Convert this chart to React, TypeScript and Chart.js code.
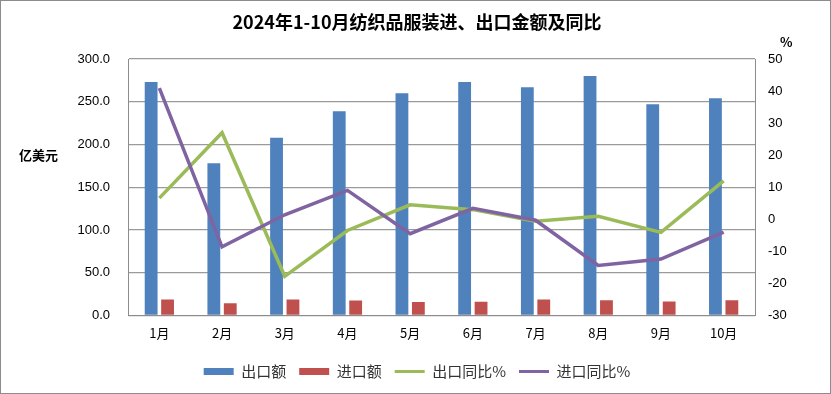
import React, { useEffect, useRef } from "react";
import { Chart, registerables } from "chart.js";

Chart.register(...registerables);

const categories = ["1月", "2月", "3月", "4月", "5月", "6月", "7月", "8月", "9月", "10月"];
const exportAmount = [273, 178, 208, 239, 260, 273, 267, 280, 247, 254];
const importAmount = [18.7, 14.2, 18.7, 17.5, 15.7, 16.1, 18.7, 17.6, 16.4, 17.6];
const exportYoY = [6.6, 27.0, -17.8, -3.5, 4.5, 3.0, -0.6, 0.9, -4.1, 12.0];
const importYoY = [40.9, -8.6, 1.4, 9.0, -4.5, 3.4, -0.3, -14.4, -12.4, -4.0];

const FONT = "'Noto Sans CJK SC', 'Liberation Sans', sans-serif";

const decorPlugin = {
  id: "decor",
  beforeDraw(chart: any) {
    const ctx = chart.ctx;
    ctx.save();
    ctx.fillStyle = "#ffffff";
    ctx.fillRect(0, 0, chart.width, chart.height);
    ctx.restore();
  },
  afterDraw(chart: any) {
    const ctx = chart.ctx;
    const area = chart.chartArea;
    ctx.save();
    ctx.strokeStyle = "#8c8c8c";
    ctx.lineWidth = 1;
    ctx.strokeRect(0.5, 0.5, chart.width - 1, chart.height - 1);
    ctx.fillStyle = "#000";
    ctx.font = "bold 13px " + FONT;
    ctx.textAlign = "left";
    ctx.textBaseline = "middle";
    ctx.fillText("亿美元", 19, area.top + 96);
    ctx.fillText("%", area.right + 25, area.top - 17);
    ctx.restore();
  },
};

export default function App() {
  const ref = useRef<HTMLCanvasElement>(null);
  useEffect(() => {
    const canvas = ref.current!;
    const chart = new Chart(canvas, {
      type: "bar",
      data: {
        labels: categories,
        datasets: [
          {
            type: "bar",
            label: "出口额",
            data: exportAmount,
            backgroundColor: "#4F81BD",
            yAxisID: "y",
            categoryPercentage: 0.524,
            barPercentage: 0.78,
            order: 2,
          },
          {
            type: "bar",
            label: "进口额",
            data: importAmount,
            backgroundColor: "#C0504D",
            yAxisID: "y",
            categoryPercentage: 0.524,
            barPercentage: 0.78,
            order: 2,
          },
          {
            type: "line",
            label: "出口同比%",
            data: exportYoY,
            borderColor: "#9BBB59",
            backgroundColor: "#9BBB59",
            borderWidth: 3.5,
            pointRadius: 0,
            tension: 0,
            yAxisID: "y1",
            order: 1,
          },
          {
            type: "line",
            label: "进口同比%",
            data: importYoY,
            borderColor: "#8064A2",
            backgroundColor: "#8064A2",
            borderWidth: 3.5,
            pointRadius: 0,
            tension: 0,
            yAxisID: "y1",
            order: 0,
          },
        ] as any,
      },
      options: {
        responsive: false,
        animation: false,
        devicePixelRatio: 1,
        layout: { padding: { left: 3, right: 0, top: 0, bottom: 5 } },
        plugins: {
          title: {
            display: true,
            text: "2024年1-10月纺织品服装进、出口金额及同比",
            color: "#000",
            font: { family: FONT, size: 18, weight: "bold" },
            padding: { top: 11, bottom: 26.4 },
          },
          legend: {
            position: "bottom",
            labels: {
              color: "#333",
              font: { family: FONT, size: 15 },
              usePointStyle: true,
              pointStyleWidth: 30,
              boxHeight: 7,
              padding: 13,
              sort: (a: any, b: any) => a.datasetIndex - b.datasetIndex,
              generateLabels(chart: any) {
                const items = Chart.defaults.plugins.legend.labels.generateLabels(chart);
                return items.map((it: any) => {
                  const ds = chart.data.datasets[it.datasetIndex];
                  const isLine = ds.type === "line";
                  return {
                    ...it,
                    pointStyle: isLine ? "line" : "rect",
                    lineWidth: isLine ? 3 : 0,
                    fontColor: "#333",
                  };
                });
              },
            },
          },
          tooltip: { enabled: false },
        },
        scales: {
          x: {
            grid: { display: false, drawTicks: false },
            border: { display: true, color: "#8c8c8c" },
            ticks: { color: "#000", font: { family: FONT, size: 13 }, padding: 10 },
          },
          y: {
            position: "left",
            min: 0,
            max: 300,
            ticks: {
              stepSize: 50,
              color: "#000",
              padding: 18,
              font: { family: "'Liberation Sans', sans-serif", size: 13 },
              callback: (v: any) => Number(v).toFixed(1),
            },
            grid: { color: "#9a9a9a", drawTicks: false, lineWidth: 1.2 },
            border: { display: true, color: "#8c8c8c" },
            afterFit(scale: any) {
              scale.width = 125;
            },
          },
          y1: {
            position: "right",
            min: -30,
            max: 50,
            ticks: {
              stepSize: 10,
              color: "#000",
              padding: 13,
              font: { family: "'Liberation Sans', sans-serif", size: 13 },
            },
            grid: { display: false, drawTicks: false },
            border: { display: true, color: "#8c8c8c" },
            afterFit(scale: any) {
              scale.width = 76;
            },
          },
        },
      } as any,
      plugins: [decorPlugin],
    });
    return () => chart.destroy();
  }, []);
  return (
    <div style={{ position: "absolute", left: 0, top: 0, width: 831, height: 394 }}>
      <canvas ref={ref} width={831} height={394} style={{ display: "block" }} />
    </div>
  );
}
